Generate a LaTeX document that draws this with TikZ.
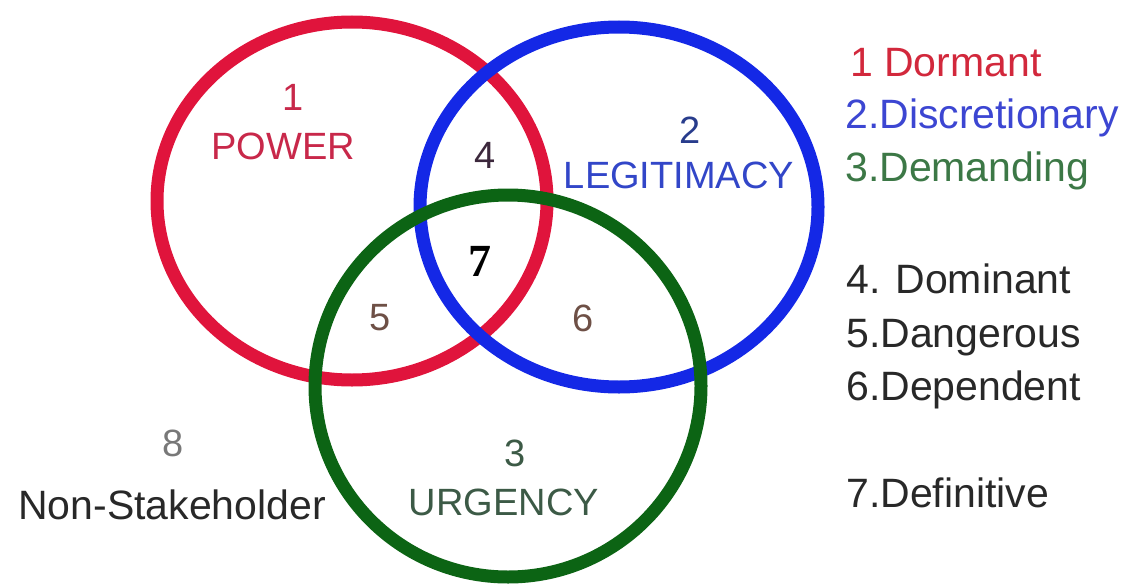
\documentclass[tikz,border=0pt]{standalone}
\usepackage{fontspec}
\setmainfont{Liberation Sans}
\newfontfamily\boldserif{Liberation Serif}[BoldFont={* Bold}]
\definecolor{ringred}{HTML}{E0143C}
\definecolor{ringblue}{HTML}{1428E6}
\definecolor{ringgreen}{HTML}{0C6414}
\definecolor{txtred}{HTML}{C8284A}
\definecolor{txtblue}{HTML}{3246C8}
\definecolor{txtnavy}{HTML}{283C8C}
\definecolor{txtdark}{HTML}{3C283C}
\definecolor{txtbrown}{HTML}{6E5046}
\definecolor{txtgreen}{HTML}{3C5A46}
\definecolor{txtgray}{HTML}{787878}
\definecolor{txtblack}{HTML}{282828}
\definecolor{legred}{HTML}{D2283C}
\definecolor{legblue}{HTML}{3C46D2}
\definecolor{leggreen}{HTML}{3C7846}
\begin{document}
\begin{tikzpicture}[x=1pt,y=-1pt,
  ring/.style={line width=13pt},
  lbl/.style={font=\fontsize{38}{38}\selectfont, inner sep=0pt},
  big/.style={font=\fontsize{41}{41}\selectfont, inner sep=0pt},
  leg/.style={font=\fontsize{41}{41}\selectfont, inner sep=0pt, anchor=base west}]
\useasboundingbox (0,0) rectangle (1139,586);
% rings
\draw[ring, ringred] (352,201) ellipse [x radius=195, y radius=179];
\draw[ring, ringblue] (619,207) ellipse [x radius=199, y radius=180];
\draw[ring, ringgreen] (508,386) ellipse [x radius=193, y radius=191];
% region labels
\node[lbl, txtred] (n1) at (293,97) {1};
\node[lbl, txtred] (power) at (283,146) {POWER};
\node[lbl, txtdark] (n4) at (485,155) {4};
\node[lbl, txtnavy] (n2) at (690,130) {2};
\node[lbl, txtblue] (legit) at (679,175) {LEGITIMACY};
\node[inner sep=0pt, font=\boldserif\bfseries\fontsize{46}{46}\selectfont, black] (n7) at (480,261) {7};
\node[lbl, txtbrown] (n5) at (380,318) {5};
\node[lbl, txtbrown] (n6) at (583,318) {6};
\node[lbl, txtgreen] (n3) at (515,453) {3};
\node[lbl, txtgreen] (urg) at (504,502) {URGENCY};
\node[lbl, txtgray] (n8) at (173,443) {8};
\node[big, txtblack] (non) at (172,505) {Non-Stakeholder};
% legend
\node[leg, legred] (l1) at (850,77) {1 Dormant};
\node[leg, legblue] (l2) at (845,128) {2.Discretionary};
\node[leg, leggreen] (l3) at (845,181) {3.Demanding};
\node[leg, txtblack] (l4) at (846,293) {4. Dominant};
\node[leg, txtblack] (l5) at (846,347) {5.Dangerous};
\node[leg, txtblack] (l6) at (846,400) {6.Dependent};
\node[leg, txtblack] (l7) at (846,507) {7.Definitive};
\end{tikzpicture}
\end{document}
